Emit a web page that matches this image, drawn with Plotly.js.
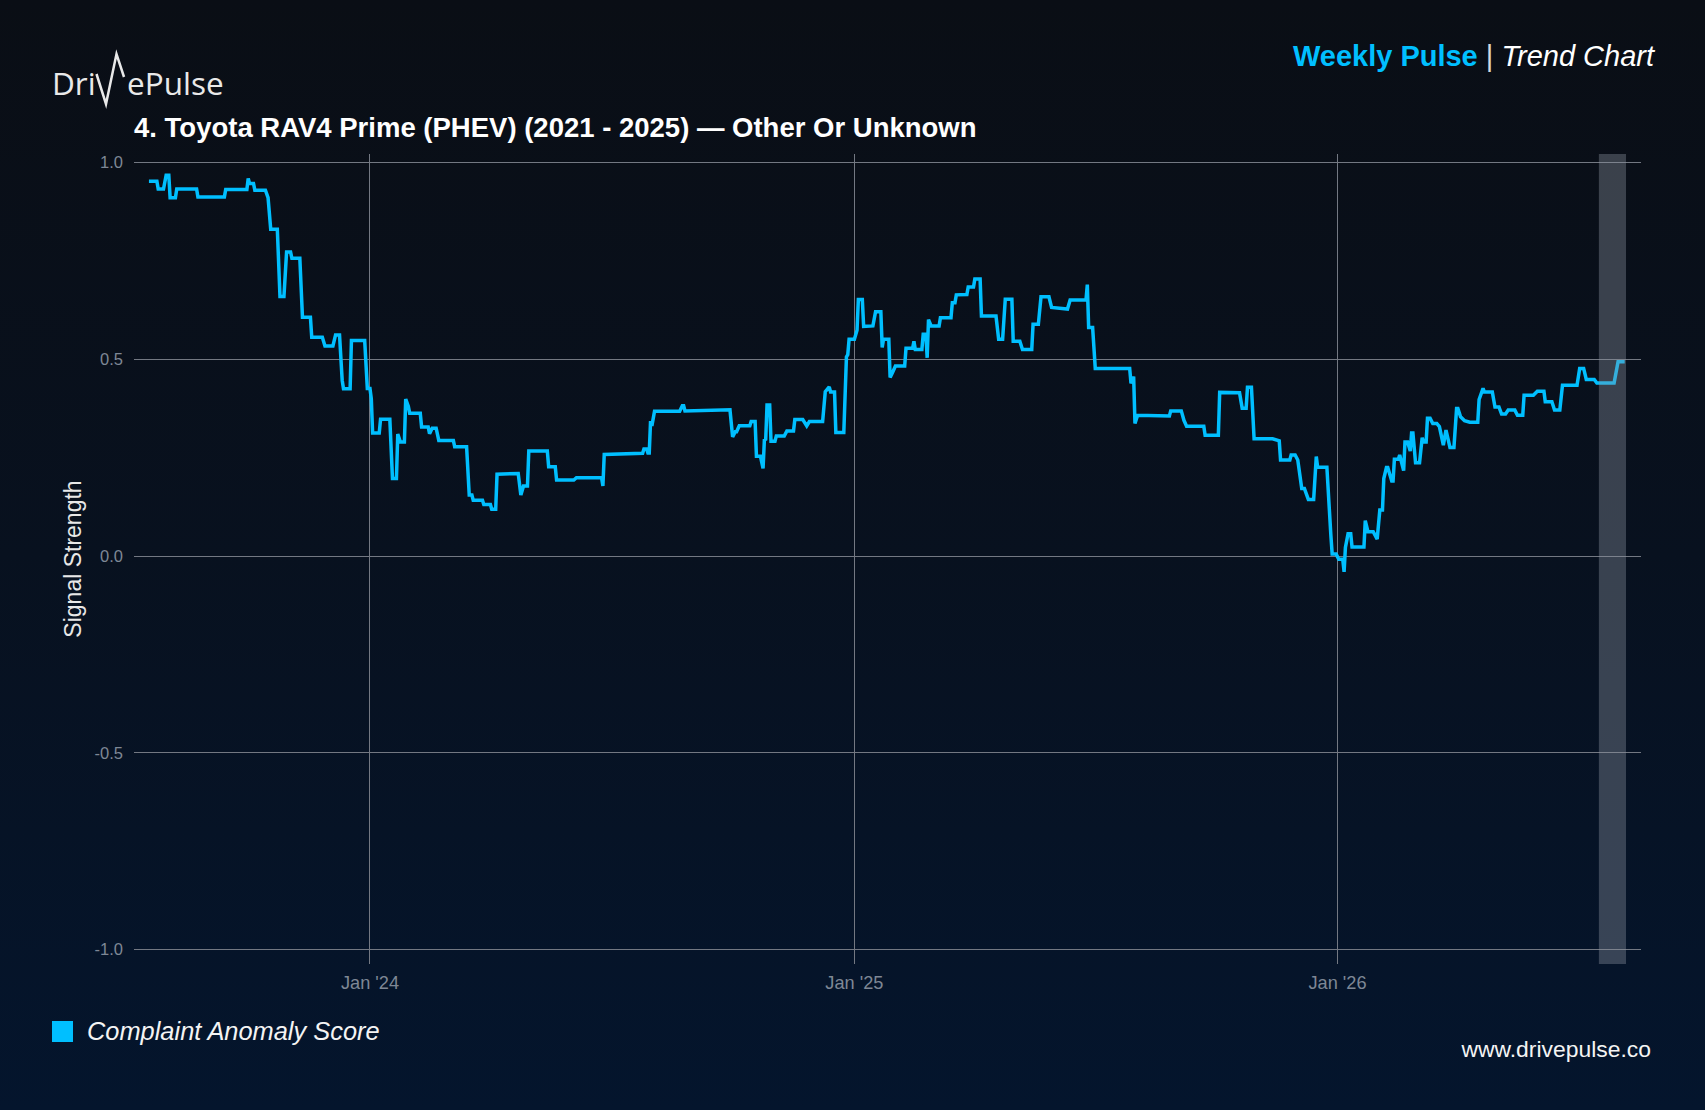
<!DOCTYPE html>
<html>
<head>
<meta charset="utf-8">
<script src="https://cdn.plot.ly/plotly-3.0.1.min.js"></script>
<style>
  html, body { margin:0; padding:0; width:1705px; height:1110px; overflow:hidden; }
  body { background: linear-gradient(180deg, #0a0e15 0%, #08111f 50%, #04152d 100%); font-family: "Liberation Sans", Arial, sans-serif; }
  #chart { position:absolute; left:0; top:0; width:1705px; height:1110px; }
  #overlay { position:absolute; left:0; top:0; pointer-events:none; }
</style>
</head>
<body>
<div id="chart"></div>
<svg id="overlay" width="1705" height="1110" xmlns="http://www.w3.org/2000/svg">
  <text y="95" font-family="Open Sans, sans-serif" font-size="31.5" fill="#e9e9e9"><tspan x="52">Dri</tspan><tspan fill-opacity="0">v</tspan><tspan x="127">ePulse</tspan></text>
  <polyline points="96.5,74 106,104 116.5,54 124,77" fill="none" stroke="#e9e9e9" stroke-width="2.5" stroke-linejoin="miter"/>
  <text x="1654" y="66" text-anchor="end" font-family="Liberation Sans, Arial, sans-serif" font-size="29" style="white-space:pre"><tspan font-weight="bold" fill="#00bfff">Weekly Pulse</tspan><tspan fill="#d6d9de"> | </tspan><tspan font-style="italic" fill="#ffffff">Trend Chart</tspan></text>
  <rect x="52" y="1021" width="21" height="21" fill="#00bfff"/>
  <text x="87" y="1040" font-family="Liberation Sans, Arial, sans-serif" font-size="25.4" font-style="italic" fill="#f4f4f4">Complaint Anomaly Score</text>
  <text x="1651" y="1057" text-anchor="end" font-family="Liberation Sans, Arial, sans-serif" font-size="22.9" fill="#f4f4f4">www.drivepulse.co</text>
</svg>
<script>
const chartTitle = "4. Toyota RAV4 Prime (PHEV) (2021 - 2025) — Other Or Unknown";
const seriesName = "Complaint Anomaly Score";
const yAxisTitle = "Signal Strength";

const dates = [
'2023-07-18','2023-07-24','2023-07-25','2023-07-29','2023-07-31','2023-08-02','2023-08-03','2023-08-07','2023-08-08','2023-08-23',
'2023-08-24','2023-09-13','2023-09-14','2023-09-30','2023-10-01','2023-10-02','2023-10-05','2023-10-06','2023-10-14','2023-10-16',
'2023-10-18','2023-10-23','2023-10-25','2023-10-28','2023-10-30','2023-11-02','2023-11-03','2023-11-09','2023-11-11','2023-11-17',
'2023-11-18','2023-11-26','2023-11-28','2023-12-04','2023-12-06','2023-12-09','2023-12-11','2023-12-12','2023-12-17','2023-12-18',
'2023-12-28','2023-12-30','2024-01-01','2024-01-02','2024-01-03','2024-01-08','2024-01-09','2024-01-16','2024-01-18','2024-01-21',
'2024-01-22','2024-01-24','2024-01-27','2024-01-28','2024-01-30','2024-01-31','2024-02-08','2024-02-09','2024-02-14','2024-02-15',
'2024-02-17','2024-02-20','2024-02-22','2024-03-04','2024-03-05','2024-03-14','2024-03-16','2024-03-18','2024-03-19','2024-03-26',
'2024-03-27','2024-04-01','2024-04-02','2024-04-05','2024-04-06','2024-04-22','2024-04-24','2024-04-26','2024-04-29','2024-04-30',
'2024-05-14','2024-05-15','2024-05-20','2024-05-21','2024-06-03','2024-06-05','2024-06-24','2024-06-25','2024-06-26','2024-07-25',
'2024-07-26','2024-07-28','2024-07-29','2024-07-30','2024-07-31','2024-08-01','2024-08-03','2024-08-22','2024-08-24','2024-08-25',
'2024-08-26','2024-09-29','2024-10-01','2024-10-03','2024-10-04','2024-10-06','2024-10-14','2024-10-15','2024-10-18','2024-10-19',
'2024-10-22','2024-10-24','2024-10-25','2024-10-26','2024-10-27','2024-10-29','2024-10-30','2024-11-02','2024-11-03','2024-11-09',
'2024-11-11','2024-11-16','2024-11-17','2024-11-23','2024-11-26','2024-11-28','2024-12-08','2024-12-10','2024-12-13','2024-12-14',
'2024-12-17','2024-12-18','2024-12-24','2024-12-26','2024-12-27','2024-12-28','2025-01-01','2025-01-03','2025-01-04','2025-01-07',
'2025-01-08','2025-01-15','2025-01-17','2025-01-21','2025-01-22','2025-01-23','2025-01-27','2025-01-28','2025-01-30','2025-02-01',
'2025-02-08','2025-02-09','2025-02-14','2025-02-15','2025-02-16','2025-02-21','2025-02-22','2025-02-24','2025-02-25','2025-02-26',
'2025-02-28','2025-03-06','2025-03-07','2025-03-15','2025-03-16','2025-03-18','2025-03-19','2025-03-27','2025-03-28','2025-04-01',
'2025-04-02','2025-04-06','2025-04-07','2025-04-18','2025-04-20','2025-04-23','2025-04-25','2025-04-30','2025-05-01','2025-05-06',
'2025-05-08','2025-05-15','2025-05-16','2025-05-20','2025-05-22','2025-05-28','2025-05-30','2025-06-07','2025-06-11','2025-06-13',
'2025-06-25','2025-06-26','2025-06-27','2025-06-30','2025-07-02','2025-07-28','2025-07-29','2025-07-31','2025-08-01','2025-08-03',
'2025-08-27','2025-08-28','2025-09-05','2025-09-07','2025-09-09','2025-09-22','2025-09-23','2025-10-03','2025-10-04','2025-10-19',
'2025-10-21','2025-10-24','2025-10-25','2025-10-28','2025-10-30','2025-11-13','2025-11-18','2025-11-19','2025-11-26','2025-11-27',
'2025-11-30','2025-12-02','2025-12-04','2025-12-05','2025-12-07','2025-12-10','2025-12-14','2025-12-16','2025-12-17','2025-12-24',
'2025-12-27','2025-12-28','2025-12-31','2026-01-02','2026-01-05','2026-01-06','2026-01-07','2026-01-09','2026-01-11','2026-01-12',
'2026-01-21','2026-01-22','2026-01-24','2026-01-28','2026-01-31','2026-02-02','2026-02-04','2026-02-05','2026-02-07','2026-02-08',
'2026-02-11','2026-02-12','2026-02-13','2026-02-16','2026-02-17','2026-02-20','2026-02-21','2026-02-23','2026-02-25','2026-02-26',
'2026-02-27','2026-03-01','2026-03-04','2026-03-06','2026-03-07','2026-03-09','2026-03-10','2026-03-12','2026-03-14','2026-03-17',
'2026-03-19','2026-03-20','2026-03-22','2026-03-24','2026-03-27','2026-03-30','2026-03-31','2026-04-01','2026-04-02','2026-04-04',
'2026-04-07','2026-04-11','2026-04-17','2026-04-18','2026-04-21','2026-04-22','2026-04-28','2026-04-30','2026-05-03','2026-05-05',
'2026-05-08','2026-05-10','2026-05-15','2026-05-17','2026-05-21','2026-05-22','2026-05-29','2026-06-01','2026-06-06','2026-06-07',
'2026-06-12','2026-06-14','2026-06-18','2026-06-20','2026-07-01','2026-07-03','2026-07-06','2026-07-08','2026-07-14','2026-07-16',
'2026-07-29','2026-07-30','2026-08-01','2026-08-06'
];

const scores = [
0.953,0.953,0.933,0.933,0.968,0.968,0.911,0.911,0.933,0.933,
0.913,0.913,0.932,0.932,0.960,0.947,0.947,0.930,0.930,0.911,
0.831,0.831,0.660,0.660,0.773,0.773,0.757,0.757,0.607,0.607,
0.556,0.556,0.534,0.534,0.562,0.562,0.447,0.425,0.425,0.548,
0.548,0.426,0.426,0.400,0.313,0.313,0.348,0.348,0.197,0.197,
0.310,0.290,0.290,0.399,0.380,0.363,0.363,0.328,0.328,0.311,
0.325,0.325,0.294,0.294,0.278,0.278,0.155,0.155,0.142,0.142,
0.131,0.131,0.119,0.119,0.208,0.210,0.155,0.178,0.178,0.267,
0.267,0.227,0.227,0.193,0.193,0.199,0.199,0.178,0.258,0.261,
0.272,0.272,0.262,0.262,0.343,0.331,0.368,0.368,0.382,0.382,
0.369,0.372,0.303,0.316,0.316,0.331,0.331,0.342,0.342,0.254,
0.254,0.223,0.295,0.297,0.384,0.384,0.292,0.292,0.305,0.305,
0.318,0.318,0.347,0.347,0.331,0.342,0.342,0.418,0.430,0.417,
0.417,0.314,0.314,0.506,0.512,0.551,0.551,0.574,0.652,0.652,
0.584,0.585,0.621,0.621,0.530,0.551,0.551,0.454,0.468,0.483,
0.483,0.528,0.528,0.546,0.525,0.525,0.564,0.564,0.504,0.601,
0.585,0.585,0.606,0.606,0.644,0.644,0.664,0.665,0.684,0.684,
0.704,0.704,0.610,0.610,0.551,0.551,0.653,0.653,0.546,0.546,
0.525,0.525,0.589,0.589,0.659,0.659,0.632,0.630,0.628,0.651,
0.651,0.690,0.581,0.581,0.477,0.477,0.439,0.456,0.337,0.358,
0.356,0.369,0.369,0.345,0.330,0.330,0.307,0.307,0.416,0.415,
0.376,0.376,0.429,0.429,0.298,0.298,0.293,0.244,0.244,0.257,
0.257,0.244,0.198,0.172,0.172,0.144,0.144,0.253,0.226,0.226,
0.053,0.005,0.005,-0.008,-0.008,-0.040,0.022,0.057,0.057,0.023,
0.023,0.090,0.062,0.062,0.043,0.117,0.117,0.197,0.225,0.225,
0.191,0.191,0.246,0.246,0.257,0.217,0.290,0.290,0.267,0.313,
0.313,0.237,0.237,0.301,0.290,0.290,0.350,0.350,0.337,0.337,
0.329,0.316,0.282,0.320,0.276,0.276,0.333,0.375,0.375,0.354,
0.344,0.340,0.340,0.398,0.426,0.417,0.417,0.379,0.379,0.361,
0.361,0.371,0.371,0.358,0.358,0.409,0.409,0.419,0.419,0.392,
0.392,0.371,0.371,0.434,0.434,0.477,0.477,0.449,0.449,0.440,
0.440,0.462,0.494,0.494
];

const xTickVals = ['2024-01-01', '2025-01-01', '2026-01-01'];
const xTickText = ["Jan '24", "Jan '25", "Jan '26"];
const yTickVals = [-1, -0.5, 0, 0.5, 1];
const yTickText = ['-1.0', '-0.5', '0.0', '0.5', '1.0'];
const xRange = ['2023-07-06 17:00', '2026-08-18 08:00'];
const yRange = [-1.037, 1.022];
const highlightStart = '2026-07-17 12:00';
const highlightEnd = '2026-08-07 00:00';

const trace = {
  x: dates, y: scores, type: 'scatter', mode: 'lines', name: seriesName,
  line: { color: '#00bfff', width: 3.5, shape: 'linear' },
  showlegend: false, hoverinfo: 'x+y'
};

const fontFam = '"Liberation Sans", Arial, Helvetica, sans-serif';
const layout = {
  width: 1705, height: 1110,
  paper_bgcolor: 'rgba(0,0,0,0)', plot_bgcolor: 'rgba(0,0,0,0)',
  margin: { l: 134, r: 64, t: 154, b: 146, pad: 0 },
  font: { family: fontFam, color: '#7e8795' },
  title: {
    text: '<b>' + chartTitle + '</b>',
    font: { family: fontFam, size: 27.5, color: '#ffffff' },
    x: 0, xref: 'paper', xanchor: 'left',
    y: 1, yref: 'paper', yanchor: 'bottom',
    pad: { b: 17, l: 0 }
  },
  xaxis: {
    type: 'date', range: xRange, tickmode: 'array', tickvals: xTickVals, ticktext: xTickText,
    tickfont: { family: fontFam, size: 18.2, color: '#7e8795' },
    showgrid: true, gridcolor: '#737882', gridwidth: 1,
    zeroline: false, showline: false, ticks: '', ticklabelstandoff: 6,
    automargin: false
  },
  yaxis: {
    range: yRange, tickmode: 'array', tickvals: yTickVals, ticktext: yTickText,
    tickfont: { family: fontFam, size: 16.5, color: '#7e8795' },
    showgrid: true, gridcolor: '#737882', gridwidth: 1,
    zeroline: false, showline: false, ticks: '', ticklabelstandoff: 10,
    automargin: false,
    title: { text: yAxisTitle, font: { family: fontFam, size: 23, color: '#e8e8e8' }, standoff: 6 }
  },
  shapes: [{
    type: 'rect', xref: 'x', yref: 'paper', x0: highlightStart, x1: highlightEnd, y0: 0, y1: 1,
    fillcolor: 'rgba(140,148,160,0.38)', line: { width: 0 }, layer: 'above'
  }],
  hovermode: false
};

Plotly.newPlot('chart', [trace], layout, { displayModeBar: false, staticPlot: true });
</script>
</body>
</html>
